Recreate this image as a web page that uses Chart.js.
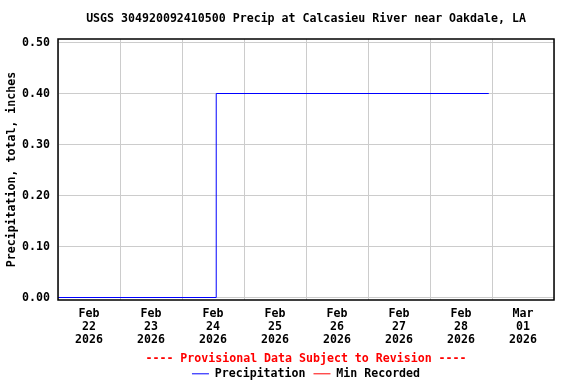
<!DOCTYPE html>
<html>
<head>
<meta charset="utf-8">
<script src="https://cdn.jsdelivr.net/npm/chart.js@4.4.1/dist/chart.umd.min.js"></script>
<style>
    html, body { margin: 0; padding: 0; background: #fff; }
    canvas { display: block; }
</style>
</head>
<body>
<canvas id="precipChart" width="576" height="384"></canvas>
<script>
// period shown: Feb 22 00:00 to Mar 02 00:00
const startTime = '2026-02-22T00:00';
const precipTimes = ['2026-02-22T00:00', '2026-02-24T13:15', '2026-02-28T22:45'];
const precipValues = [0.00, 0.40, 0.40];
const minRecordedTimes = [];
const minRecordedValues = [];
const dayLabels = [
    ['Feb', '22', '2026'],
    ['Feb', '23', '2026'],
    ['Feb', '24', '2026'],
    ['Feb', '25', '2026'],
    ['Feb', '26', '2026'],
    ['Feb', '27', '2026'],
    ['Feb', '28', '2026'],
    ['Mar', '01', '2026']
];
const yTickValues = [0.00, 0.10, 0.20, 0.30, 0.40, 0.50];

const FONT = "'DejaVu Sans Mono', 'Liberation Mono', monospace";

function toDays(t) {
    return (Date.parse(t + ':00Z') - Date.parse(startTime + ':00Z')) / 86400000;
}

function toPoints(times, values) {
    return times.map((t, i) => ({ x: toDays(t), y: values[i] }));
}

// gridlines at midnight, labels at noon
const xTickPositions = [];
for (let i = 0; i <= dayLabels.length; i++) {
    xTickPositions.push(i);
    if (i < dayLabels.length) xTickPositions.push(i + 0.5);
}

// black frame round the plot area
const plotFrame = {
    id: 'plotFrame',
    afterDraw(chart) {
        const a = chart.chartArea;
        const ctx = chart.ctx;
        ctx.save();
        ctx.strokeStyle = '#000';
        ctx.lineWidth = 1.5;
        ctx.strokeRect(a.left, a.top, a.right - a.left, a.bottom - a.top);
        ctx.restore();
    }
};

Chart.defaults.font.family = FONT;
Chart.defaults.font.size = 11.6;
Chart.defaults.font.weight = 'bold';
Chart.defaults.color = '#000';

const ctx = document.getElementById('precipChart').getContext('2d');
new Chart(ctx, {
    type: 'line',
    data: {
        datasets: [{
            label: 'Precipitation',
            data: toPoints(precipTimes, precipValues),
            borderColor: '#0000ff',
            backgroundColor: '#0000ff',
            borderWidth: 1,
            pointRadius: 0,
            stepped: true,
            fill: false
        }, {
            label: 'Min Recorded',
            data: toPoints(minRecordedTimes, minRecordedValues),
            borderColor: '#ff0000',
            backgroundColor: '#ff0000',
            borderWidth: 1,
            pointRadius: 0
        }]
    },
    options: {
        responsive: false,
        animation: false,
        devicePixelRatio: 1,
        layout: { padding: { left: 0, right: 22, top: 0, bottom: 0 } },
        scales: {
            x: {
                type: 'linear',
                min: 0,
                max: dayLabels.length,
                afterBuildTicks: scale => {
                    scale.ticks = xTickPositions.map(v => ({ value: v }));
                },
                afterFit: scale => { scale.height = 46; },
                grid: {
                    color: c => (c.tick && c.tick.value % 1 === 0) ? '#cccccc' : 'rgba(0,0,0,0)',
                    drawTicks: false
                },
                border: { display: false },
                ticks: {
                    autoSkip: false,
                    maxRotation: 0,
                    padding: 7,
                    font: { lineHeight: 13 / 11.6 },
                    callback: v => (v % 1 === 0.5) ? dayLabels[Math.floor(v)] : ''
                }
            },
            y: {
                min: -0.0049,
                max: 0.5069,
                afterBuildTicks: scale => {
                    scale.ticks = yTickValues.map(v => ({ value: v }));
                },
                afterFit: scale => { scale.width = 58; },
                grid: { color: '#cccccc', drawTicks: false },
                border: { display: false },
                ticks: {
                    padding: 8,
                    callback: v => v.toFixed(2)
                },
                title: {
                    display: true,
                    text: 'Precipitation, total, inches',
                    padding: { top: 5, bottom: 0 }
                }
            }
        },
        plugins: {
            title: {
                display: true,
                fullSize: false,
                text: 'USGS 304920092410500 Precip at Calcasieu River near Oakdale, LA',
                color: '#000',
                font: { size: 11.6, weight: 'bold', lineHeight: 1.2 },
                padding: { top: 12.5, bottom: 12.58 }
            },
            legend: {
                position: 'bottom',
                fullSize: false,
                maxHeight: 38,
                title: {
                    display: true,
                    text: '---- Provisional Data Subject to Revision ----',
                    color: '#ff0000',
                    font: { size: 11.6, weight: 'bold', lineHeight: 13 / 11.6 },
                    padding: { top: 7, bottom: -6 }
                },
                labels: {
                    boxWidth: 17,
                    boxHeight: 1,
                    padding: 8,
                    color: '#000',
                    generateLabels: chart => chart.data.datasets.map((ds, i) => ({
                        text: ds.label,
                        fillStyle: ds.borderColor,
                        strokeStyle: ds.borderColor,
                        fontColor: '#000',
                        lineWidth: 0,
                        hidden: false,
                        datasetIndex: i
                    }))
                }
            },
            tooltip: { enabled: false }
        }
    },
    plugins: [plotFrame]
});
</script>
</body>
</html>
